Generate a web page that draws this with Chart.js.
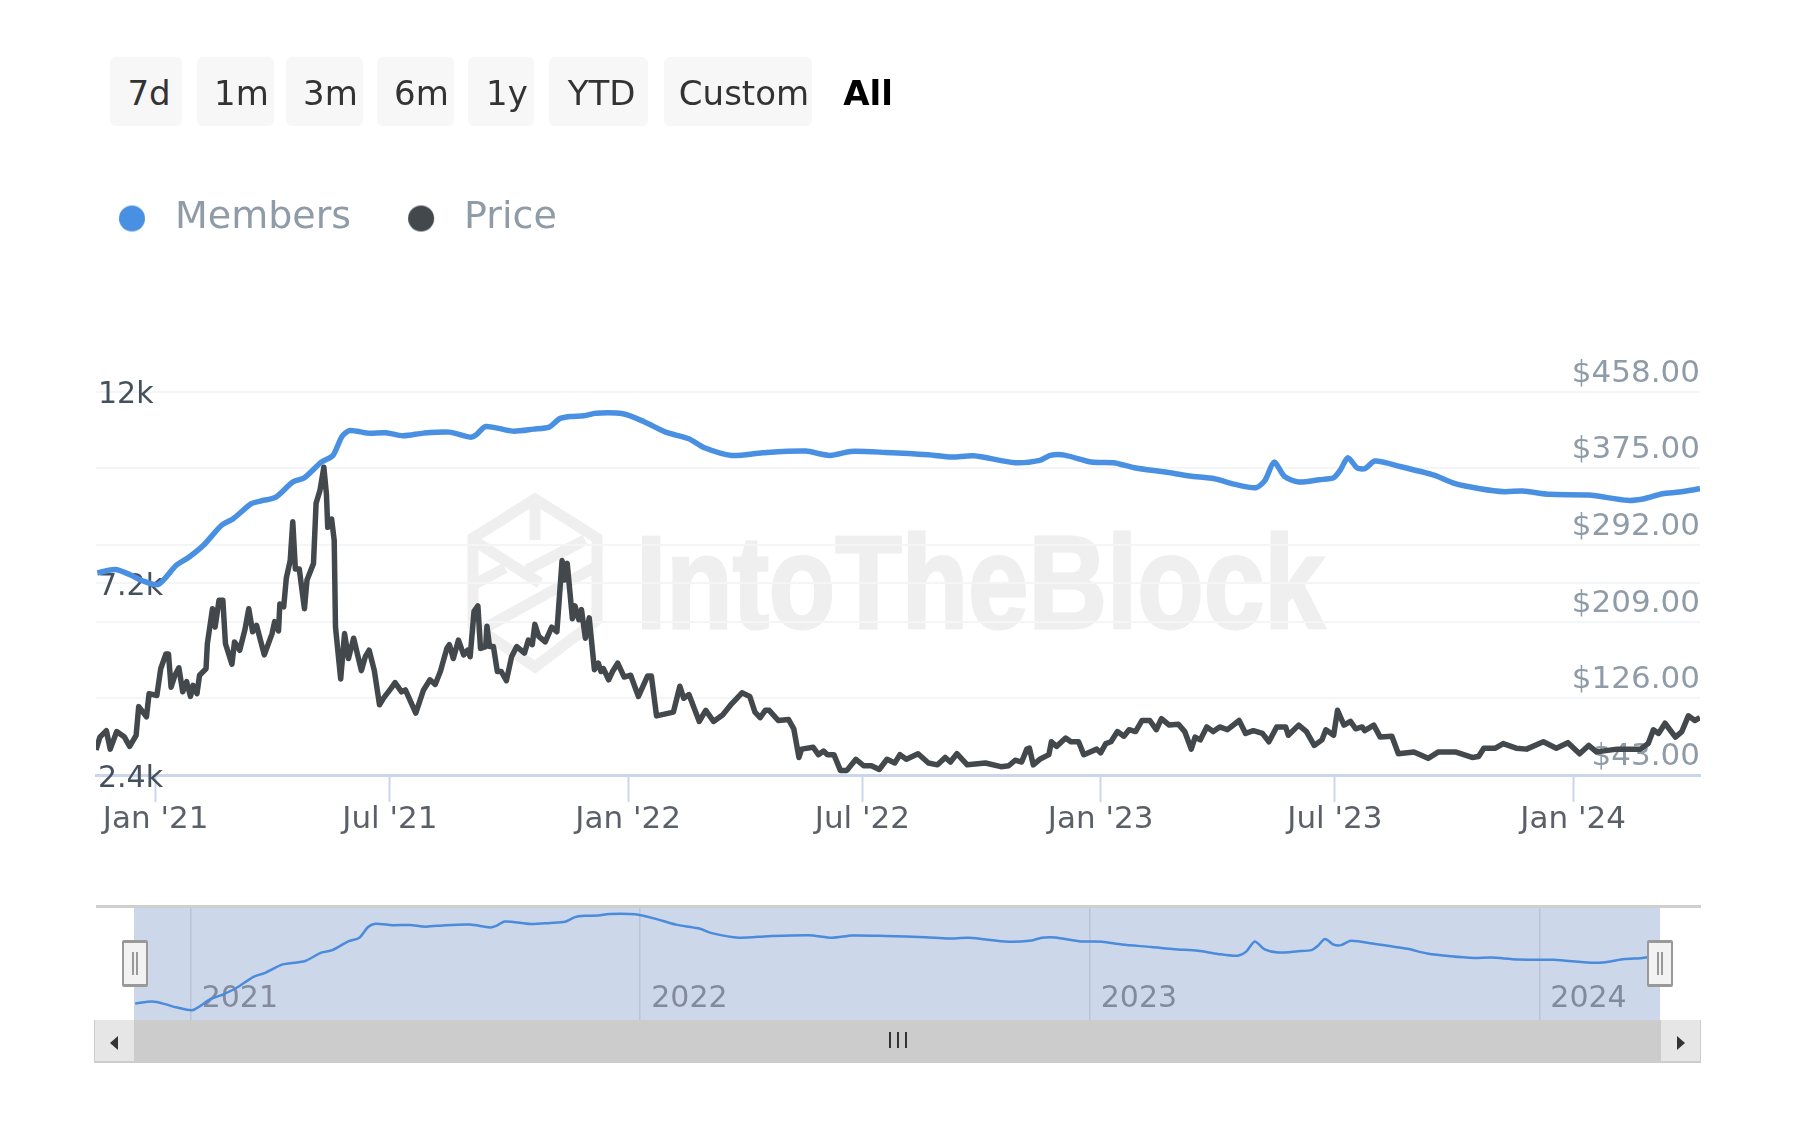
<!DOCTYPE html>
<html>
<head>
<meta charset="utf-8">
<title>Members and Price</title>
<script src="https://cdn.jsdelivr.net/npm/chart.js@4"></script>
<style>
  html, body { margin: 0; background: #fff; font-family: "DejaVu Sans", sans-serif; }
  #page { position: relative; width: 1797px; height: 1146px; overflow: hidden; }
  #page > * { position: absolute; }
  .range-btn { top: 57px; height: 69px; line-height: 73px; background: #f7f7f7; border-radius: 6px; color: #333; font-size: 34px; text-align: center; }
  .range-btn.active { background: none; color: #000; font-weight: bold; }
  #wmText { left: 636px; top: 507px; font: bold 131px "Liberation Sans", sans-serif; color: #efefef; -webkit-text-stroke: 3px #efefef; transform: scaleX(.83); transform-origin: left top; white-space: nowrap; }
  #navTop { left: 96px; top: 905px; width: 1605px; height: 3px; background: #cfcfcf; }
  #navMask { left: 134px; top: 908px; width: 1526px; height: 112px; background: #cdd7ea; }
  #track { left: 134px; top: 1020px; width: 1526px; height: 43px; background: #ccc; }
  .sb-btn { top: 1020px; width: 39px; height: 41px; background: #e6e6e6; border: solid #ccc; border-width: 0 1px 2px 1px; }
  .arrow { top: 1036px; width: 0; height: 0; border-top: 7px solid transparent; border-bottom: 7px solid transparent; }
  .grip { top: 1032px; width: 2px; height: 16px; background: #333; }
  .handle { top: 940px; width: 22px; height: 41px; background: #f2f2f2; border: 2px solid #999; border-width: 3px 2px; border-radius: 2px; }
  .handle::after { content: ""; position: absolute; left: 8px; top: 9px; width: 2px; height: 23px; border: solid #999; border-width: 0 2px; }
</style>
</head>
<body>
<div id="page">
  <div id="wmText">IntoTheBlock</div>
  <svg style="left:0;top:0" width="1797" height="800" fill="none" stroke="#efefef" stroke-width="11">
    <path d="M535 499 L597 538 V620 L535 667 L473 625 V538 Z"></path>
    <path d="M535 499 V540 M473 540 L540 583 M473 585 L505 568 M585 540 L527 570 M597 566 L485 628"></path>
  </svg>
  <canvas id="mainChart" style="left:0;top:0"></canvas>
  <div id="navTop"></div>
  <div id="navMask"></div>
  <canvas id="navChart" style="left:0;top:908px"></canvas>
  <div id="track"></div>
  <div class="sb-btn" style="left:94px"></div>
  <div class="sb-btn" style="left:1660px"></div>
  <div class="arrow" style="left:110px;border-right:8px solid #333"></div>
  <div class="arrow" style="left:1677px;border-left:8px solid #333"></div>
  <div class="grip" style="left:889px"></div>
  <div class="grip" style="left:897px"></div>
  <div class="grip" style="left:905px"></div>
  <div class="handle" style="left:122px"></div>
  <div class="handle" style="left:1647px"></div>
</div>
<script>
// x values are days counted from 1 Jan 2021
const rangeButtons = ['7d', '1m', '3m', '6m', '1y', 'YTD', 'Custom', 'All'];
const rangeLefts = [110, 197, 286, 377, 468, 549, 664, 832];
const rangeWidths = [72, 77, 77, 77, 66, 99, 148, 72];
const rangeIndents = [6, 12, 12, 12, 12, 6, 12, 0];

const tickDays = [0, 181, 365, 546, 730, 911, 1095];
const tickLabels = ["Jan '21", "Jul '21", "Jan '22", "Jul '22", "Jan '23", "Jul '23", "Jan '24"];
const yearDays = [0, 365, 730, 1095];
const yearLabels = ['2021', '2022', '2023', '2024'];
const memberTicks = [2400, 7200, 12000];
const priceTicks = [43, 126, 209, 292, 375, 458];

const memberDays = [-45, -31, -20, -11, 2, 16, 26, 37, 51, 60, 74, 81, 93, 106, 115, 128, 137, 144, 150, 164, 178, 191, 207, 227, 243, 248, 255, 276, 292, 304, 312, 320, 331, 340, 361, 377, 394, 412, 424, 445, 469, 502, 521, 537, 564, 597, 615, 632, 664, 683, 691, 702, 723, 740, 756, 780, 799, 818, 834, 850, 857, 864, 872, 883, 899, 910, 915, 921, 928, 934, 942, 961, 988, 1004, 1023, 1042, 1056, 1077, 1107, 1137, 1150, 1164, 1177, 1193];
const members = [7458, 7542, 7417, 7275, 7167, 7650, 7858, 8150, 8650, 8817, 9192, 9258, 9358, 9733, 9842, 10233, 10400, 10875, 11025, 10958, 10967, 10892, 10958, 10983, 10858, 10925, 11125, 11008, 11058, 11108, 11317, 11375, 11392, 11458, 11442, 11250, 10983, 10817, 10592, 10400, 10467, 10508, 10400, 10500, 10475, 10417, 10358, 10392, 10217, 10275, 10400, 10408, 10233, 10217, 10092, 9983, 9883, 9817, 9675, 9592, 9775, 10233, 9875, 9733, 9792, 9842, 10025, 10342, 10092, 10067, 10258, 10125, 9900, 9692, 9567, 9492, 9508, 9425, 9408, 9275, 9317, 9442, 9483, 9567];

const priceDays = [-46, -43, -38, -35, -30, -24, -20, -15, -13, -7, -5, 1, 4, 8, 10, 12, 15, 18, 21, 24, 27, 29, 32, 34, 39, 40, 44, 46, 49, 52, 54, 59, 61, 65, 69, 72, 75, 78, 84, 90, 92, 95, 96, 99, 101, 104, 106, 108, 111, 115, 117, 122, 124, 127, 130, 132, 133, 136, 138, 139, 143, 146, 149, 153, 159, 162, 165, 169, 173, 176,
  182, 185, 190, 193, 201, 207, 212, 216, 220, 225, 227, 230, 234, 238, 241, 243, 246, 249, 251, 255, 256, 258, 261, 264, 267, 271, 275, 279, 285, 288, 291, 293, 296, 301, 306, 310, 314, 316, 318, 322, 324, 327, 329, 332, 335, 339, 342, 344, 346, 350, 353, 357, 362, 367, 373, 380, 383, 387, 400, 405,
  408, 412, 420, 425, 431, 438, 445, 453, 459, 463, 467, 471, 474, 481, 489, 493, 497, 499, 508, 512, 516, 519, 524, 529, 534, 541, 547, 553, 559, 565, 571, 575, 580, 589, 597, 604, 610, 614, 619, 627, 641, 653, 659, 664, 669,
  673, 675, 678, 683, 690, 692, 696, 703, 707, 713, 717, 727, 730, 734, 738, 743, 748, 752, 757, 762, 768, 773, 777, 783, 790, 795, 800, 803, 807, 812, 817, 822, 828, 837, 842, 848, 855, 860, 866, 873, 875, 883, 889, 895, 901, 904, 910, 913, 918, 923, 927, 932,
  934, 941, 946, 955, 960, 972, 983, 991, 1004, 1017, 1022, 1026, 1035, 1041, 1051, 1059, 1072, 1082, 1091, 1100, 1107, 1113, 1129, 1147, 1153, 1157, 1161, 1166, 1174, 1179, 1184, 1189, 1193];
const prices = [70, 84, 91, 71, 90, 84, 74, 86, 117, 106, 131, 129, 158, 174, 174, 138, 151, 159, 133, 144, 128, 140, 131, 151, 158, 185, 223, 203, 232, 232, 185, 163, 187, 178, 200, 223, 198, 205, 173, 196, 209, 199, 228, 225, 256, 275, 317, 266, 266, 223, 254, 272, 337, 351, 376, 347, 311, 320, 297, 203, 147, 196, 169, 191, 156, 171, 178, 156, 119, 126,
  137, 143, 133, 135, 110, 135, 146, 141, 155, 180, 184, 169, 189, 173, 178, 171, 220, 226, 180, 182, 204, 182, 182, 155, 155, 145, 171, 182, 175, 189, 184, 206, 193, 187, 203, 198, 275, 254, 272, 212, 226, 211, 222, 191, 213, 157, 164, 155, 158, 146, 155, 164, 149, 151, 128, 150, 150, 107, 111, 139,
  126, 130, 101, 113, 101, 108, 120, 132, 128, 111, 105, 113, 113, 102, 103, 93, 62, 71, 73, 65, 69, 65, 65, 48, 48, 60, 53, 53, 49, 60, 56, 65, 60, 66, 56, 54, 62, 57, 66, 54, 56, 52, 53, 59, 57,
  71, 72, 54, 60, 65, 79, 74, 83, 79, 79, 65, 71, 67, 77, 79, 90, 85, 92, 90, 102, 102, 92, 104, 97, 98, 90, 71, 84, 81, 95, 90, 95, 92, 102, 88, 91, 88, 79, 95, 95, 86, 97, 90, 75, 81, 92, 86, 113, 97, 101, 93, 95,
  91, 97, 84, 85, 66, 68, 61, 68, 68, 62, 63, 72, 72, 77, 72, 71, 79, 72, 78, 66, 75, 68, 71, 71, 77, 92, 88, 99, 84, 90, 107, 102, 105];

function toPoints(days, values) {
  return days.map((d, i) => ({ x: d, y: values[i] }));
}

function legendDot(color) {
  const dot = document.createElement('canvas');
  dot.width = 28;
  dot.height = 28;
  const ctx = dot.getContext('2d');
  ctx.fillStyle = color;
  ctx.arc(14, 14, 13, 0, Math.PI * 2);
  ctx.fill();
  return dot;
}

function renderButtons() {
  const page = document.getElementById('page');
  rangeButtons.forEach((label, i) => {
    const el = document.createElement('div');
    el.className = 'range-btn' + (label === 'All' ? ' active' : '');
    el.style.left = rangeLefts[i] + 'px';
    el.style.width = rangeWidths[i] + 'px';
    el.style.textIndent = rangeIndents[i] + 'px';
    el.textContent = label;
    page.appendChild(el);
  });
}

// pushes the plot down below the legend
const legendGap = {
  id: 'legendGap',
  beforeInit(chart) {
    const fit = chart.legend.fit;
    chart.legend.fit = function () {
      fit.call(this);
      this.height += 144;
    };
  },
};

function renderMainChart() {
  const canvas = document.getElementById('mainChart');
  canvas.width = 1797;
  canvas.height = 860;
  new Chart(canvas, {
    type: 'line',
    plugins: [legendGap],
    data: {
      datasets: [
        { label: 'Members', data: toPoints(memberDays, members), yAxisID: 'yMembers', borderColor: '#4a90e2', backgroundColor: '#4a90e2', pointStyle: legendDot('#4a90e2'), borderWidth: 5.5, tension: 0.25, order: 2 },
        { label: 'Price', data: toPoints(priceDays, prices), yAxisID: 'yPrice', borderColor: '#43484c', backgroundColor: '#43484c', pointStyle: legendDot('#43484c'), borderWidth: 5.5, order: 1 },
      ],
    },
    options: {
      responsive: false,
      animation: false,
      elements: { point: { radius: 0 }, line: { borderJoinStyle: 'round' } },
      layout: { padding: { top: 153.5, left: 62, right: 97 } },
      plugins: {
        tooltip: { enabled: false },
        legend: {
          position: 'top',
          align: 'start',
          labels: {
            usePointStyle: true,
            pointStyleWidth: 48,
            boxHeight: 18.4,
            padding: 46,
            color: '#8f9ca8',
            font: { size: 38 },
            sort: (a, b) => a.datasetIndex - b.datasetIndex,
          },
        },
      },
      scales: {
        x: {
          type: 'linear',
          min: -46,
          max: 1193,
          afterFit(scale) { scale.height = 85; },
          afterBuildTicks(scale) { scale.ticks = tickDays.map((v) => ({ value: v })); },
          border: { color: '#ccd6eb', width: 3 },
          grid: { drawOnChartArea: false, tickLength: 27, tickColor: '#ccd6eb', tickWidth: 2 },
          ticks: {
            maxRotation: 0,
            autoSkip: false,
            padding: -1,
            color: '#5b6068',
            font: { size: 31 },
            callback: (v) => tickLabels[tickDays.indexOf(v)],
          },
        },
        yMembers: {
          position: 'left',
          min: 2400,
          max: 12000,
          afterFit(scale) { scale.width = 34; },
          afterBuildTicks(scale) { scale.ticks = memberTicks.map((v) => ({ value: v })); },
          border: { display: false },
          grid: { drawTicks: false, lineWidth: 2, color: (c) => (c.tick.value === 2400 ? 'transparent' : '#f3f5f6') },
          ticks: { mirror: true, padding: 2, labelOffset: 4, color: '#45505f', font: { size: 30 }, callback: (v) => `${v / 1000}k` },
        },
        yPrice: {
          position: 'right',
          min: 43,
          max: 458,
          afterFit(scale) { scale.width = 0; },
          afterBuildTicks(scale) { scale.ticks = priceTicks.map((v) => ({ value: v })); },
          border: { display: false },
          grid: { drawTicks: false, lineWidth: 2, color: (c) => (c.tick.value === 43 ? 'transparent' : '#f3f5f6') },
          ticks: { mirror: true, padding: 0, labelOffset: -18, color: '#8f9ca8', font: { size: 31 }, callback: (v) => `$${v.toFixed(2)}` },
        },
      },
    },
  });
}

function renderNavigator() {
  const canvas = document.getElementById('navChart');
  canvas.width = 1797;
  canvas.height = 112;
  new Chart(canvas, {
    type: 'line',
    data: {
      datasets: [{ data: toPoints(memberDays, members), borderColor: '#4a8bdc', borderWidth: 2.5, tension: 0.25 }],
    },
    options: {
      responsive: false,
      animation: false,
      elements: { point: { radius: 0 } },
      layout: { padding: { left: 134, right: 137 } },
      plugins: { legend: { display: false }, tooltip: { enabled: false } },
      scales: {
        x: {
          type: 'linear',
          min: -46,
          max: 1193,
          afterFit(scale) { scale.height = 0; },
          afterBuildTicks(scale) { scale.ticks = yearDays.map((v) => ({ value: v })); },
          border: { display: false },
          grid: { drawTicks: false, color: '#b9c4d8', lineWidth: 1.5 },
          ticks: {
            mirror: true,
            maxRotation: 0,
            autoSkip: false,
            align: 'start',
            labelOffset: 11,
            padding: 3,
            color: '#828b9b',
            font: { size: 30 },
            callback: (v) => yearLabels[yearDays.indexOf(v)],
          },
        },
        y: { display: false, min: 6720, max: 11726 },
      },
    },
  });
}

Chart.defaults.font.family = '"DejaVu Sans", sans-serif';
renderButtons();
renderMainChart();
renderNavigator();
</script>
</body>
</html>
